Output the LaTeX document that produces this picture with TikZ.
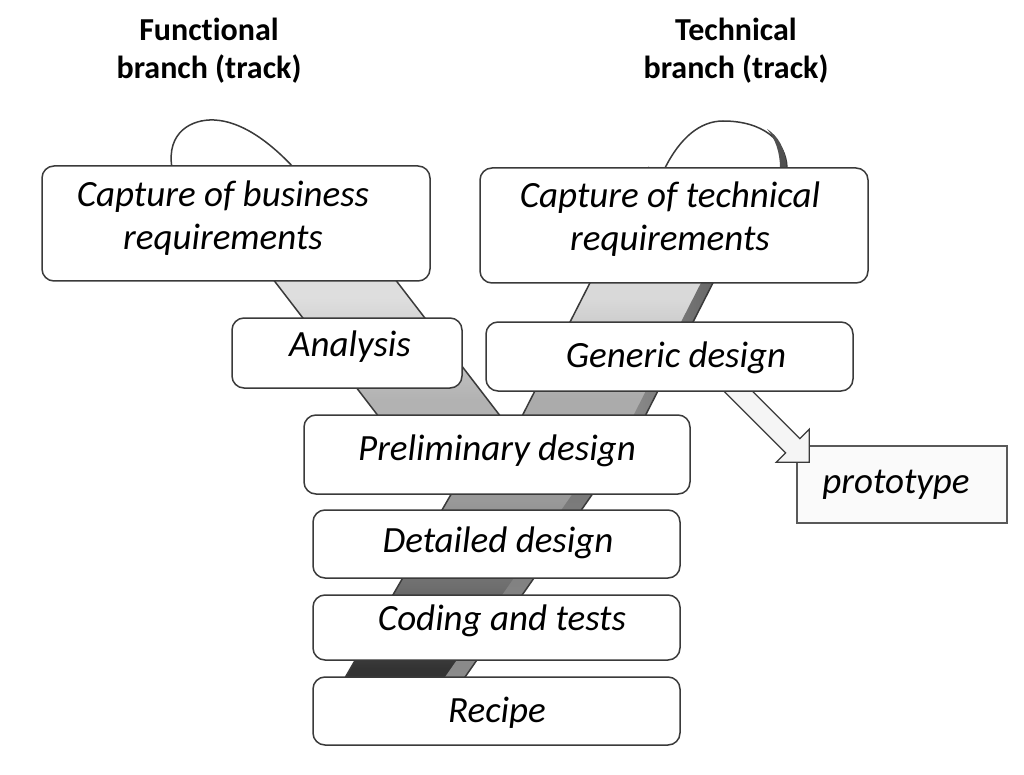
\documentclass[tikz,border=0pt]{standalone}
\usepackage{fontspec}
\setmainfont{Carlito}[Ligatures=NoCommon]
\usetikzlibrary{calc}
\definecolor{edge}{HTML}{3A3A3A}
\definecolor{stripe}{HTML}{505050}
\pgfdeclareverticalshading{trunkshade}{100bp}{color(0bp)=(black!80); color(29bp)=(black!80); color(44bp)=(black!57); color(60bp)=(black!40); color(100bp)=(black!36)}
\pgfdeclareverticalshading{leftshade}{100bp}{color(0bp)=(black!30); color(31bp)=(black!30); color(50bp)=(black!13); color(100bp)=(black!9)}
\pgfdeclareverticalshading{rightshade}{100bp}{color(0bp)=(black!33); color(31bp)=(black!33); color(50bp)=(black!15); color(100bp)=(black!10)}
\tikzset{
  box/.style={draw=edge, line width=1.5pt, fill=white, rounded corners=12pt, inner sep=0pt},
  sqbox/.style={draw=black!65, line width=1.5pt, fill=black!2, inner sep=0pt},
  lbl/.style={font=\fontsize{37}{43}\selectfont\itshape, inner sep=0pt, align=center},
  ttl/.style={font=\fontsize{32}{38}\selectfont\bfseries, inner sep=0pt, align=center},
  bandedge/.style={draw=edge, line width=1.5pt},
  loopline/.style={draw=edge, line width=1.5pt, fill=white},
  blockarrow/.style={draw=edge, line width=1.3pt, fill=black!4, line join=miter}
}
\begin{document}
\begin{tikzpicture}[x=1pt,y=-1pt]
\useasboundingbox[fill=white] (0,0) rectangle (1024,775);

% ---- left branch band
\path[shading=leftshade] (186,166) -- (308,166) -- (511,430) -- (389,430) -- cycle;
\draw[bandedge] (186,166) -- (389,430);
\draw[bandedge] (308,166) -- (511,430);

% ---- right branch band
\path[shading=rightshade] (649,167) -- (772,167) -- (638,430) -- (515,430) -- cycle;
\path[left color=black!45, right color=stripe] (760,167) -- (772,167) -- (638,430) -- (626,430) -- cycle;
\draw[bandedge] (649,167) -- (515,430);
\draw[bandedge] (772,167) -- (638,430);

% ---- trunk
\path[shading=trunkshade] (494,420) -- (644,420) -- (456,690) -- (338,690) -- cycle;
\path[top color=black!55, bottom color=black!45] (624,420) -- (644,420) -- (456,690) -- (436,690) -- cycle;
\draw[bandedge] (494,420) -- (338,690);
\draw[bandedge] (644,420) -- (456,690);

% ---- loops
\draw[loopline] (172,168) .. controls (166,132) and (192,119) .. (214,120)
  .. controls (240,121) and (268,140) .. (294,168);
\draw[loopline] (665,168) .. controls (680,138) and (700,121) .. (723,121)
  .. controls (762,121) and (786,140) .. (787,168);
\fill[stripe] (786.5,168) .. controls (785.5,148) and (778,136) .. (767,129)
  .. controls (775,138) and (780,152) .. (780,168) -- cycle;

% ---- boxes
\node[box, minimum width=388pt, minimum height=115pt] (b1) at (236,223.5) {};
\node[box, minimum width=388pt, minimum height=115pt] (b2) at (674,225.5) {};
\node[box, minimum width=230pt, minimum height=70pt] (ana) at (347,353) {};
\node[sqbox, minimum width=210pt, minimum height=77pt] (proto) at (902,484.5) {};
\coordinate (tip) at ($(proto.north west)+(13,17)$);
\draw[blockarrow] (tip) -- ($(tip)+(-33,0)$) -- ($(tip)+(-23.6,-9.4)$)
  -- ($(tip)+(-87.1,-72.9)$) -- ($(tip)+(-72.9,-87.1)$)
  -- ($(tip)+(-9.4,-23.6)$) -- ($(tip)+(0,-33)$) -- cycle;
\node[box, minimum width=367pt, minimum height=69pt] (gen) at (669.5,356.5) {};
\node[box, minimum width=386pt, minimum height=79pt] (pre) at (497,454.5) {};
\node[box, minimum width=367pt, minimum height=68pt] (det) at (496.5,544) {};
\node[box, minimum width=367pt, minimum height=65pt] (cod) at (496.5,627.5) {};
\node[box, minimum width=367pt, minimum height=68pt] (rec) at (496.5,711) {};

% ---- texts
\node[ttl] (tf) at (209,51) {Functional\\branch (track)};
\node[ttl] (tt) at (736,51) {Technical\\branch (track)};
\node[lbl] (l1) at (223,218) {Capture of business\\requirements};
\node[lbl] (l2) at (670,219) {Capture of technical\\requirements};
\node[lbl, anchor=base] (l3) at (350,356) {Analysis};
\node[lbl, anchor=base] (l4) at (676,367) {Generic design};
\node[lbl, anchor=base] (l5) at (497,460) {Preliminary design};
\node[lbl, anchor=base] (l6) at (498,552) {Detailed design};
\node[lbl, anchor=base] (l7) at (502,630) {Coding and tests};
\node[lbl, anchor=base] (l8) at (497,722) {Recipe};
\node[lbl, anchor=base] (l9) at (896,493) {prototype};
\end{tikzpicture}
\end{document}
